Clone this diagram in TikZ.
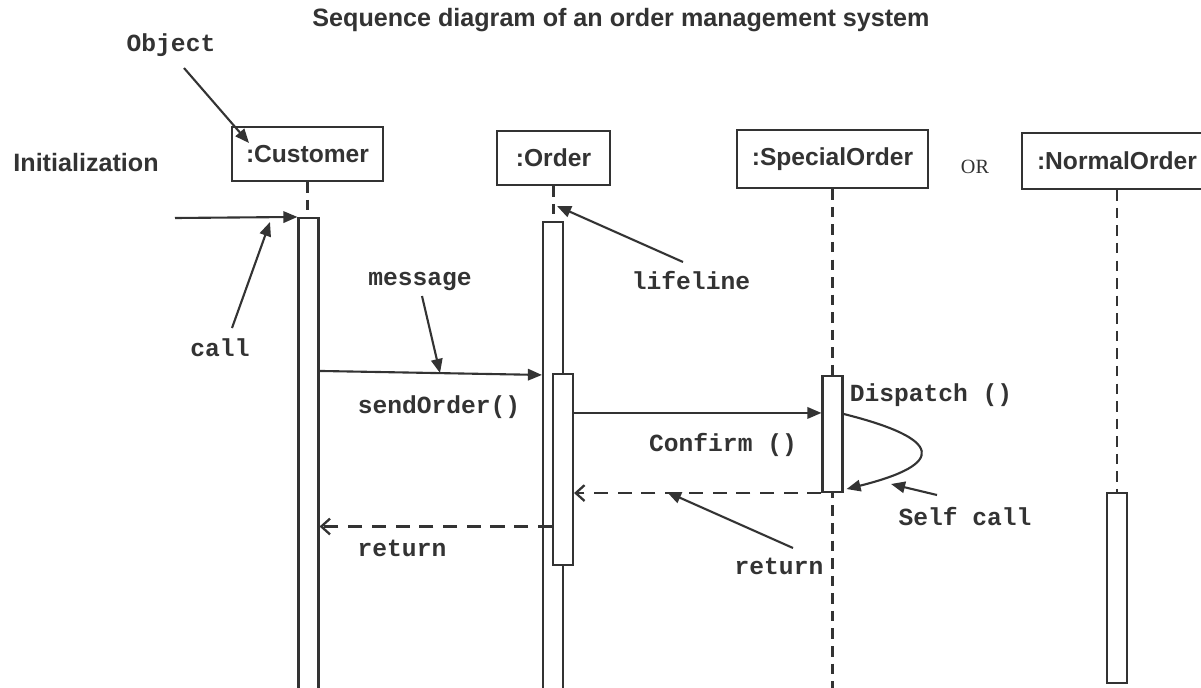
\documentclass[tikz,border=0pt]{standalone}
\usepackage{fontspec}
\usetikzlibrary{arrows.meta,calc}
\newfontfamily\sansf{Liberation Sans}
\newfontfamily\monof{Liberation Mono}
\newfontfamily\seriff{Liberation Serif}
\definecolor{ink}{HTML}{333333}

\begin{document}
\begin{tikzpicture}[x=0.02cm,y=-0.02cm,
  obj/.style={draw=ink, line width=1.4pt, fill=white, inner sep=0pt,
    font=\sansf\bfseries\fontsize{14}{16}\selectfont, text=ink},
  bar/.style={draw=ink, line width=1.2pt, fill=white, inner sep=0pt,
    minimum width=20*0.02cm},
  life/.style={draw=ink, line width=1.3pt, dash pattern=on 6pt off 4pt},
  msg/.style={draw=ink, line width=1.2pt, -{Triangle[length=8pt,width=6.5pt]}},
  ret/.style={draw=ink, line width=1.3pt, dash pattern=on 8pt off 5.5pt,
    -{Straight Barb[length=5pt,width=9pt]}},
  pointer/.style={draw=ink, line width=1.2pt, -{Triangle[length=8pt,width=6.5pt]}},
  note/.style={font=\monof\bfseries\fontsize{14}{16}\selectfont, text=ink, inner sep=1pt},
  head/.style={font=\sansf\bfseries\fontsize{14.3}{16}\selectfont, text=ink, inner sep=0pt}
]
\clip (0,0) rectangle (1201,687);
\fill[white] (0,0) rectangle (1201,687);

% title and side labels
\node[head] (title) at (621,20) {Sequence diagram of an order management system};
\node[head] (init) at (86,163) {Initialization};
\node[font=\seriff\fontsize{11.5}{13}\selectfont, text=ink] (or) at (975,167) {OR};

% objects
\node[obj, minimum width=151*0.02cm, minimum height=54*0.02cm] (cust) at (307.5,154) {:Customer};
\node[obj, minimum width=113*0.02cm, minimum height=54*0.02cm] (ord) at (553.5,158) {:Order};
\node[obj, minimum width=191*0.02cm, minimum height=58*0.02cm] (spec) at (832.5,159) {:SpecialOrder};
\node[obj, minimum width=190*0.02cm, minimum height=56*0.02cm] (norm) at (1117,161) {:NormalOrder};

% centres of the activation bars
\path (308.5,459) coordinate (cbarC)
      (553,461) coordinate (obarC)
      (563,469.5) coordinate (obar2C)
      (832.5,434) coordinate (sbarC)
      (1117,588) coordinate (nbarC)
      (832.5,700) coordinate (sEnd);

% lifelines
\draw[life] (cust.south) -- (cust.south |- 0,218);
\draw[life] (ord.south) -- (ord.south |- 0,222);
\draw[life] (spec.south) -- (sEnd);
\draw[life] (norm.south) -- (norm.south |- 0,493);

% activation bars
\node[bar, minimum height=482*0.02cm] (cbar) at (cbarC) {};
\node[bar, minimum height=478*0.02cm] (obar) at (obarC) {};
\node[bar, minimum height=191*0.02cm] (obar2) at (obar2C) {};
\node[bar, minimum height=116*0.02cm] (sbar) at (sbarC) {};
\node[bar, minimum height=190*0.02cm] (nbar) at (nbarC) {};

% messages
\coordinate (start) at (175,218);
\draw[msg] (start) -- (cbar.north west);
\draw[msg] ($(cbar.north east)+(0,154)$) -- ($(obar.north west)+(0,154)$);
\draw[msg] ($(obar2.north east)+(0,40)$) -- ($(sbar.north west)+(0,38)$);
\draw[msg] ($(sbar.north east)+(0,39)$) .. controls +(100,25) and +(100,-25) .. ($(sbar.south east)+(3,-4)$);
\draw[ret] (sbar.south west) -- (sbar.south west -| obar2.east);
\coordinate (r2) at ($(obar2.west)+(0,57)$);
\draw[ret] (r2) -- (r2 -| cbar.east);

% message labels
\node[note] (send) at (439,407) {sendOrder()};
\node[note] (conf) at (723,445) {Confirm ()};
\node[note] (disp) at (931,395) {Dispatch ()};
\node[note] (ret2) at (402,548) {return};

% annotations
\node[note] (objL) at (171,45) {Object};
\coordinate (objT) at (184,68);
\draw[pointer] (objT) -- (249,143);

\node[note] (callL) at (220,348) {call};
\coordinate (callT) at (232,328);
\draw[pointer] (callT) -- (270,222);

\node[note] (msgL) at (420,281) {message};
\coordinate (msgT) at (422,296);
\draw[pointer] (msgT) -- (440,373);

\node[note] (lifeL) at (691,281) {lifeline};
\coordinate (lifeT) at (683,262);
\draw[pointer] (lifeT) -- (557,206);

\node[note] (selfL) at (965,517) {Self call};
\coordinate (selfT) at (937,495);
\draw[pointer] (selfT) -- (891,484);

\node[note] (ret1) at (779,566) {return};
\coordinate (ret1T) at (793,548);
\draw[pointer] (ret1T) -- (667,492);
\end{tikzpicture}
\end{document}
